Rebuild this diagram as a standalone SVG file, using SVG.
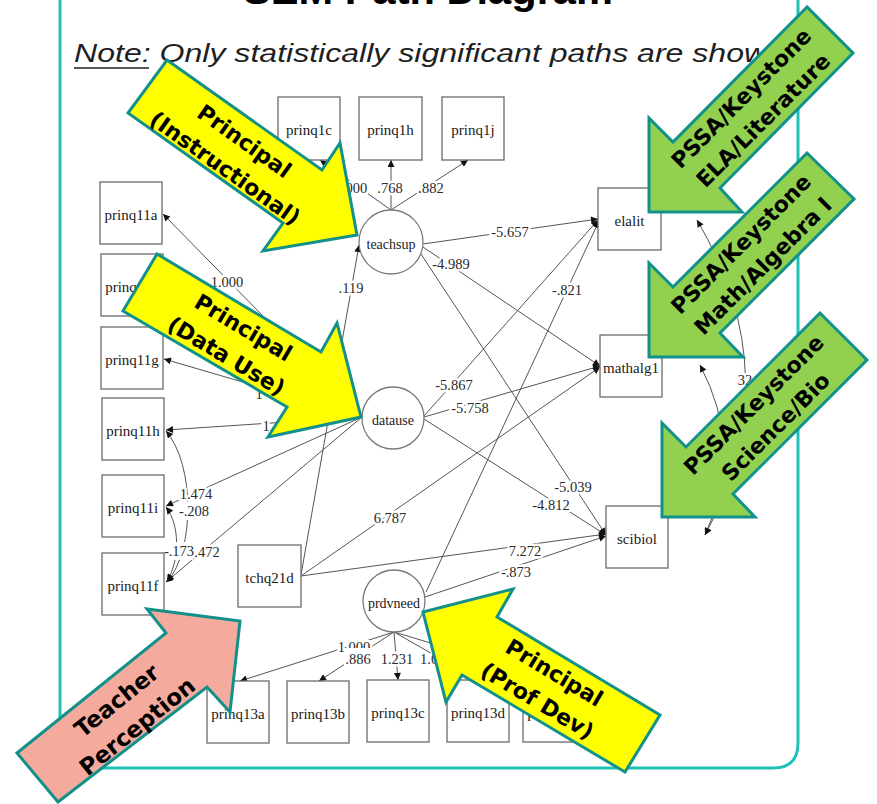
<svg xmlns="http://www.w3.org/2000/svg" width="877" height="804" viewBox="0 0 877 804">
<defs>
<style>
.box{fill:#fff;stroke:#6b6b6b;stroke-width:1.3}
.lat{fill:#fff;stroke:#7a7a7a;stroke-width:1.3}
.nt{font-family:"Liberation Serif","Times New Roman",serif;font-size:15px;fill:#1a1a1a;text-anchor:middle}
.lt{font-family:"Liberation Serif","Times New Roman",serif;font-size:14px;fill:#1a1a1a;text-anchor:middle}
.e{fill:none;stroke:#555;stroke-width:1}
.el{font-family:"Liberation Serif","Times New Roman",serif;font-size:14.5px;fill:#2a2a2a;text-anchor:middle;stroke:#fff;stroke-width:5;paint-order:stroke;stroke-linejoin:round}
.bg{fill:#fff}
.big{stroke:#12918a;stroke-width:3;stroke-linejoin:miter}
.bt{font-family:"DejaVu Sans",sans-serif;font-weight:bold;font-size:22px;fill:#000;text-anchor:middle}
</style>
<marker id="ah" viewBox="0 0 10 10" refX="10" refY="5" markerWidth="9" markerHeight="7" markerUnits="userSpaceOnUse" orient="auto-start-reverse"><path d="M0,0 L10,5 L0,10 z" fill="#111"/></marker>
</defs>
<rect width="877" height="804" fill="#fff"/>
<path id="frame" d="M60,-5 V745 Q60,768 83,768 H773 Q798,768 798,743 V-5" fill="none" stroke="#1fc0b7" stroke-width="3"/>
<text x="428" y="4" font-family="'Liberation Sans',Arial,sans-serif" font-weight="bold" font-size="40" text-anchor="middle" textLength="370" lengthAdjust="spacingAndGlyphs" fill="#000">SEM Path Diagram</text>
<text x="74" y="62" font-family="'Liberation Sans',Arial,sans-serif" font-style="italic" font-size="25" textLength="711" lengthAdjust="spacingAndGlyphs" fill="#1f1f1f">Note: Only statistically significant paths are shown</text>
<line x1="74" y1="68" x2="149" y2="68" stroke="#1f1f1f" stroke-width="1.5"/>

<g id="connectors">
<path class="e" d="M391,210 L320,160" marker-end="url(#ah)"/>
<path class="e" d="M391,210 L391,160" marker-end="url(#ah)"/>
<path class="e" d="M391,210 L468,160" marker-end="url(#ah)"/>
<path class="e" d="M301,575 L359,245" marker-end="url(#ah)"/>
<path class="e" d="M423,244 L598,219" marker-end="url(#ah)"/>
<path class="e" d="M423,247 L600,366" marker-end="url(#ah)"/>
<path class="e" d="M419,251 L606,535" marker-end="url(#ah)"/>
<path class="e" d="M424,416 L598,220" marker-end="url(#ah)"/>
<path class="e" d="M424,417 L600,366" marker-end="url(#ah)"/>
<path class="e" d="M424,419 L606,535" marker-end="url(#ah)"/>
<path class="e" d="M301,576 L600,367" marker-end="url(#ah)"/>
<path class="e" d="M301,576 L606,534" marker-end="url(#ah)"/>
<path class="e" d="M425,597 L606,536" marker-end="url(#ah)"/>
<path class="e" d="M426,592 L599,221" marker-end="url(#ah)"/>
<path class="e" d="M362,417 L163,214" marker-end="url(#ah)"/>
<path class="e" d="M362,417 L164,285" marker-end="url(#ah)"/>
<path class="e" d="M362,417 L164,359" marker-end="url(#ah)"/>
<path class="e" d="M362,417 L166,430" marker-end="url(#ah)"/>
<path class="e" d="M362,417 L166,506" marker-end="url(#ah)"/>
<path class="e" d="M362,417 L166,582" marker-end="url(#ah)"/>
<path class="e" d="M394,632 L240,681" marker-end="url(#ah)"/>
<path class="e" d="M394,632 L319,681" marker-end="url(#ah)"/>
<path class="e" d="M394,632 L398,680" marker-end="url(#ah)"/>
<path class="e" d="M394,632 L478,680" marker-end="url(#ah)"/>
<path class="e" d="M394,632 L554,680" marker-end="url(#ah)"/>
<path class="e" d="M166,431 C195,465 195,550 167,582" marker-start="url(#ah)" marker-end="url(#ah)"/>
<path class="e" d="M166,507 C180,525 180,560 167,581" marker-start="url(#ah)" marker-end="url(#ah)"/>
<path class="e" d="M697,220 Q790,378 705,535" marker-start="url(#ah)" marker-end="url(#ah)"/>
<path class="e" d="M700,365 Q745,450 705,535" marker-start="url(#ah)" marker-end="url(#ah)"/>

<text class="el" x="351" y="193">1.000</text>
<text class="el" x="390" y="193">.768</text>
<text class="el" x="431" y="193">.882</text>
<text class="el" x="351" y="293">.119</text>
<text class="el" x="510" y="237">-5.657</text>
<text class="el" x="451" y="269">-4.989</text>
<text class="el" x="573" y="492">-5.039</text>
<text class="el" x="454" y="390">-5.867</text>
<text class="el" x="470" y="413">-5.758</text>
<text class="el" x="551" y="510">-4.812</text>
<text class="el" x="390" y="523">6.787</text>
<text class="el" x="525" y="556">7.272</text>
<text class="el" x="516" y="577">-.873</text>
<text class="el" x="567" y="295">-.821</text>
<text class="el" x="227" y="287">1.000</text>
<text class="el" x="259" y="399">1</text>
<text class="el" x="266" y="431">1</text>
<text class="el" x="196" y="499">1.474</text>
<rect class="bg" x="177" y="502" width="34" height="18"/>
<text class="el" x="194" y="516">-.208</text>
<text class="el" x="207" y="557">.472</text>
<rect class="bg" x="162" y="542" width="31" height="18"/>
<text class="el" x="179" y="556">-.173</text>
<text class="el" x="354" y="652">1.000</text>
<rect class="bg" x="344" y="648" width="30" height="18"/>
<text class="el" x="358" y="664">.886</text>
<text class="el" x="397" y="664">1.231</text>
<text class="el" x="420" y="664" style="text-anchor:start">1.0</text>
<text class="el" x="745" y="385">32</text>
</g>

<g id="prinq1c"><rect class="box" x="278" y="97" width="62" height="63"/><text class="nt" x="309" y="135">prinq1c</text></g>
<g id="prinq1h"><rect class="box" x="359" y="97" width="63" height="63"/><text class="nt" x="390.5" y="135">prinq1h</text></g>
<g id="prinq1j"><rect class="box" x="442" y="97" width="62" height="63"/><text class="nt" x="473" y="135">prinq1j</text></g>
<g id="prinq11a"><rect class="box" x="100" y="182" width="62" height="62"/><text class="nt" x="131" y="220">prinq11a</text></g>
<g id="prinq11b"><rect class="box" x="101" y="254" width="62" height="62"/><text class="nt" x="132" y="292">prinq11b</text></g>
<g id="prinq11g"><rect class="box" x="101" y="327" width="62" height="62"/><text class="nt" x="132" y="365">prinq11g</text></g>
<g id="prinq11h"><rect class="box" x="102" y="398" width="62" height="62"/><text class="nt" x="133" y="436">prinq11h</text></g>
<g id="prinq11i"><rect class="box" x="102" y="475" width="62" height="62"/><text class="nt" x="133" y="513">prinq11i</text></g>
<g id="prinq11f"><rect class="box" x="102" y="553" width="62" height="62"/><text class="nt" x="133" y="591">prinq11f</text></g>
<g id="tchq21d"><rect class="box" x="238" y="545" width="63" height="62"/><text class="nt" x="269.5" y="583">tchq21d</text></g>
<g id="prinq13a"><rect class="box" x="207" y="681" width="62" height="62"/><text class="nt" x="238" y="719">prinq13a</text></g>
<g id="prinq13b"><rect class="box" x="287" y="681" width="62" height="62"/><text class="nt" x="318" y="719">prinq13b</text></g>
<g id="prinq13c"><rect class="box" x="367" y="680" width="62" height="62"/><text class="nt" x="398" y="718">prinq13c</text></g>
<g id="prinq13d"><rect class="box" x="447" y="680" width="62" height="62"/><text class="nt" x="478" y="718">prinq13d</text></g>
<g id="prinq13e"><rect class="box" x="523" y="680" width="62" height="62"/><text class="nt" x="554" y="718">prinq13e</text></g>
<g id="elalit"><rect class="box" x="598" y="188" width="63" height="62"/><text class="nt" x="629.5" y="226">elalit</text></g>
<g id="mathalg1"><rect class="box" x="600" y="335" width="62" height="62"/><text class="nt" x="631" y="373">mathalg1</text></g>
<g id="scibiol"><rect class="box" x="606" y="506" width="62" height="62"/><text class="nt" x="637" y="544">scibiol</text></g>
<g id="teachsup"><circle class="lat" cx="391" cy="242" r="32"/><text class="lt" x="391" y="249">teachsup</text></g>
<g id="datause"><circle class="lat" cx="393" cy="418" r="31"/><text class="lt" x="393" y="425">datause</text></g>
<g id="prdvneed"><circle class="lat" cx="394" cy="601" r="31"/><text class="lt" x="394" y="608">prdvneed</text></g>

<g id="callout-instructional">
<polygon class="big" fill="#ffff00" points="167,60 322,170 340,143 357,235 263,251 283,223 128,113"/>
<text class="bt" transform="translate(244.6,141) rotate(35.4)" y="8">Principal</text>
<text class="bt" transform="translate(225.4,168) rotate(35.4)" y="8">(Instructional)</text>
</g>
<g id="callout-datause">
<polygon class="big" fill="#ffff00" points="157,254 321,352 337,323 361,417 268,437 287,407 123,311"/>
<text class="bt" transform="translate(243.5,327.3) rotate(30.9)" y="8">Principal</text>
<text class="bt" transform="translate(226.5,355.7) rotate(30.9)" y="8">(Data Use)</text>
</g>
<g id="callout-teacher">
<polygon class="big" fill="#f4aa9c" points="17,753 166,633 147,609 240,621 230,712 207,687 58,802"/>
<text class="bt" transform="translate(116.7,700.6) rotate(-38.8)" y="8" style="font-size:23px">Teacher</text>
<text class="bt" transform="translate(137.3,726.4) rotate(-38.8)" y="8" style="font-size:23px">Perception</text>
</g>
<g id="callout-profdev">
<polygon class="big" fill="#ffff00" points="423,612 513,589 497,617 660,715 625,772 462,675 446,702"/>
<text class="bt" transform="translate(554.5,672.4) rotate(31)" y="8">Principal</text>
<text class="bt" transform="translate(537.5,700.6) rotate(31)" y="8">(Prof Dev)</text>
</g>
<g id="callout-ela">
<polygon class="big" fill="#92d050" points="807,7 673,142 649,118 649,212 742,212 720,188 853,53"/>
<text class="bt" transform="translate(741,98) rotate(-45)" y="8">PSSA/Keystone</text>
<text class="bt" transform="translate(763,120) rotate(-45)" y="8">ELA/Literature</text>
</g>
<g id="callout-math">
<polygon class="big" fill="#92d050" points="807,153 673,287 649,263 649,357 743,357 720,333 854,199"/>
<text class="bt" transform="translate(740.75,243.75) rotate(-45)" y="8">PSSA/Keystone</text>
<text class="bt" transform="translate(762.75,265.75) rotate(-45)" y="8">Math/Algebra I</text>
</g>
<g id="callout-science">
<polygon class="big" fill="#92d050" points="820,313 686,447 662,423 662,517 755,517 733,494 867,360"/>
<text class="bt" transform="translate(753.5,404.5) rotate(-45)" y="8">PSSA/Keystone</text>
<text class="bt" transform="translate(775.5,426.5) rotate(-45)" y="8">Science/Bio</text>
</g>
</svg>
